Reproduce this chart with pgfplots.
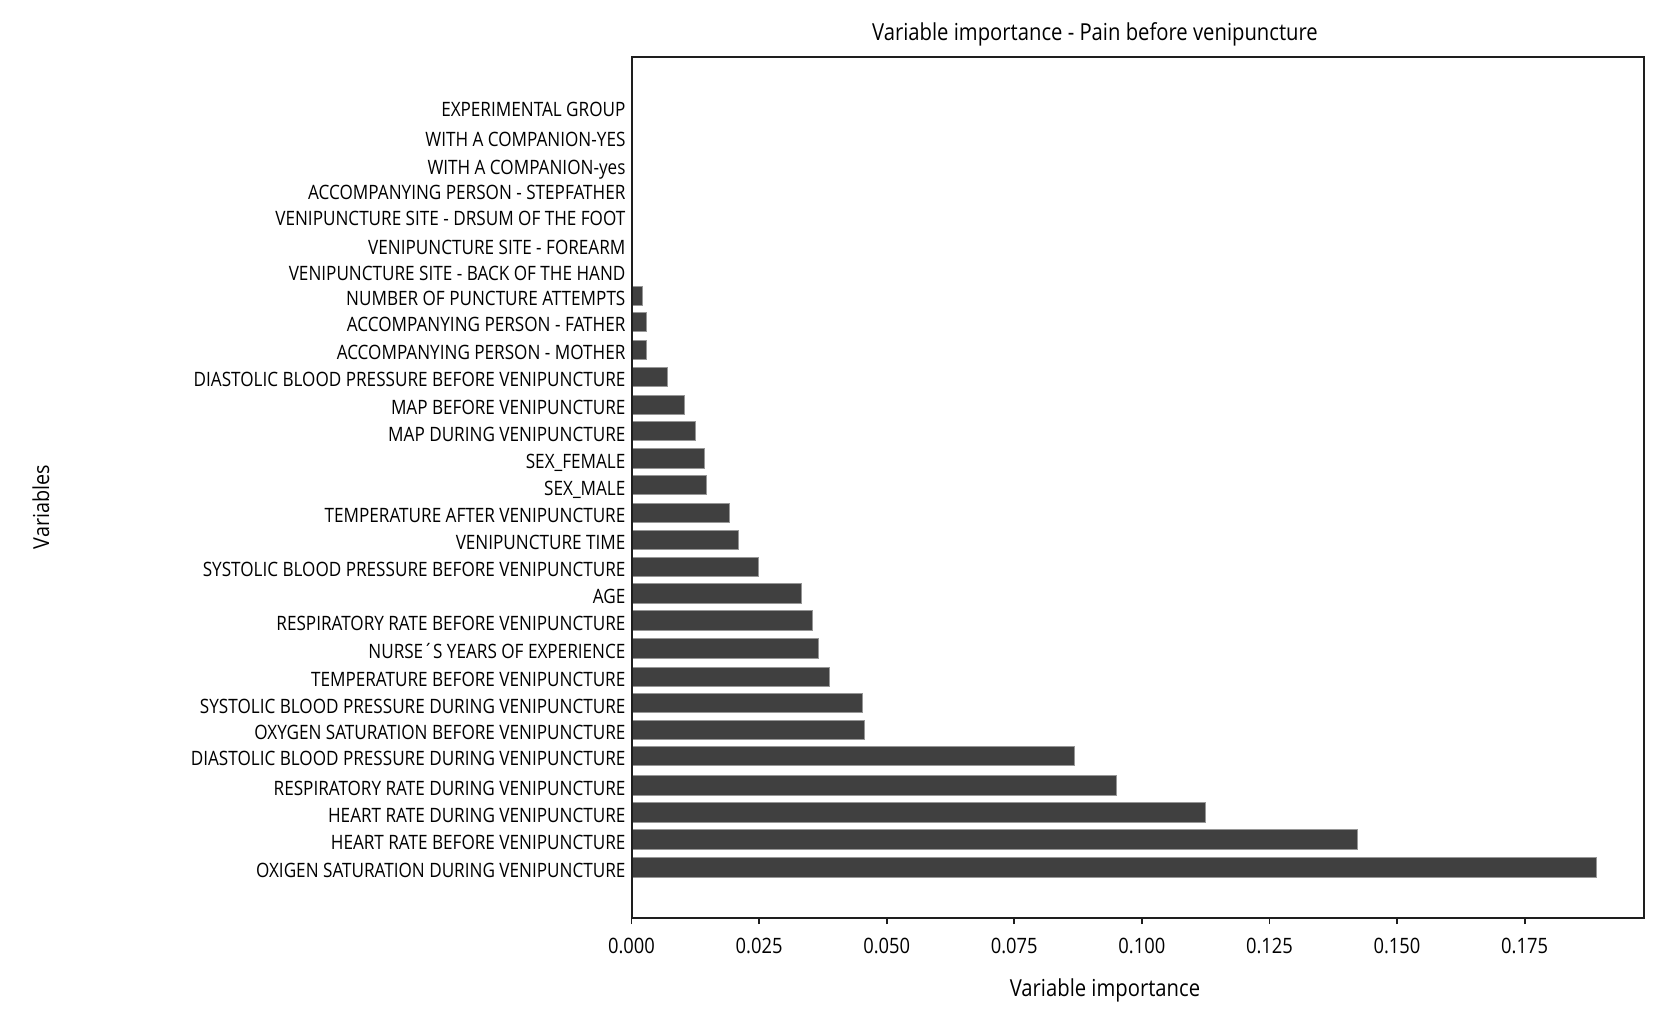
\documentclass[border=0pt]{standalone}
\usepackage{pgfplots}
\pgfplotsset{compat=1.18}
\usepackage{pgfplotstable}
\usepackage{fontspec}
\setmainfont{Open Sans}[FakeStretch=0.865]
\newfontfamily\normfont{Open Sans}[FakeStretch=0.9]
\definecolor{barfill}{RGB}{64,64,64}
\definecolor{baredge}{RGB}{150,150,150}
\definecolor{axcol}{RGB}{30,30,30}
\pgfplotstableread{
y value
146.7 0.1890
174.5 0.1423
201.7 0.1125
228.7 0.0950
258.3 0.0867
284.3 0.0456
311.0 0.0452
337.3 0.0388
365.7 0.0367
393.7 0.0355
420.7 0.0333
447.3 0.0249
474.3 0.0210
501.3 0.0192
529.0 0.0147
555.5 0.0142
583.0 0.0126
609.3 0.0104
637.0 0.0070
664.0 0.0030
692.0 0.0030
718.0 0.0022
743.3 0
769.3 0
798.3 0
824.3 0
849.3 0
877.0 0
907.0 0
}\imp
\begin{document}
\begin{tikzpicture}
\path[use as bounding box] (0,0) rectangle (833.5pt,507pt);
\begin{axis}[
  at={(315.75pt,47.85pt)}, anchor=south west,
  scale only axis, width=506.4pt, height=430.8pt,
  xmin=0, xmax=0.19845, ymin=95.7, ymax=957.3,
  xbar, bar width=19.3,
  axis on top,
  axis line style={line width=1pt, axcol},
  xtick={0,0.025,0.05,0.075,0.1,0.125,0.15,0.175},
  scaled x ticks=false,
  xtick pos=lower, tick align=outside,
  major tick length=2.85pt,
  xtick style={line width=0.9pt, axcol},
  xticklabel style={font=\fontsize{10.6}{11}\selectfont, anchor=base, yshift=-14.65pt, inner sep=0pt},
  /pgf/number format/.cd, fixed, fixed zerofill, precision=3, assume math mode=true, /pgfplots/.cd,
  ytick={146.7,174.5,201.7,228.7,258.3,284.3,311.0,337.3,365.7,393.7,420.7,447.3,474.3,501.3,529.0,555.5,583.0,609.3,637.0,664.0,692.0,718.0,743.3,769.3,798.3,824.3,849.3,877.0,907.0},
  yticklabels={
    OXIGEN SATURATION DURING VENIPUNCTURE,
    HEART RATE BEFORE VENIPUNCTURE,
    HEART RATE DURING VENIPUNCTURE,
    RESPIRATORY RATE DURING VENIPUNCTURE,
    DIASTOLIC BLOOD PRESSURE DURING VENIPUNCTURE,
    OXYGEN SATURATION BEFORE VENIPUNCTURE,
    SYSTOLIC BLOOD PRESSURE DURING VENIPUNCTURE,
    TEMPERATURE BEFORE VENIPUNCTURE,
    NURSE´S YEARS OF EXPERIENCE,
    RESPIRATORY RATE BEFORE VENIPUNCTURE,
    AGE,
    SYSTOLIC BLOOD PRESSURE BEFORE VENIPUNCTURE,
    VENIPUNCTURE TIME,
    TEMPERATURE AFTER VENIPUNCTURE,
    SEX\_MALE,
    SEX\_FEMALE,
    MAP DURING VENIPUNCTURE,
    MAP BEFORE VENIPUNCTURE,
    DIASTOLIC BLOOD PRESSURE BEFORE VENIPUNCTURE,
    ACCOMPANYING PERSON - MOTHER,
    ACCOMPANYING PERSON - FATHER,
    NUMBER OF PUNCTURE ATTEMPTS,
    VENIPUNCTURE SITE - BACK OF THE HAND,
    VENIPUNCTURE SITE - FOREARM,
    VENIPUNCTURE SITE - DRSUM OF THE FOOT,
    ACCOMPANYING PERSON - STEPFATHER,
    WITH A COMPANION-yes,
    WITH A COMPANION-YES,
    EXPERIMENTAL GROUP},
  ytick style={draw=none},
  yticklabel style={font=\fontsize{9.9}{11}\selectfont, anchor=base east, inner sep=0pt, xshift=0pt, yshift=-5pt},
]
\addplot[fill=barfill, draw=baredge, line width=0.4pt] table[x=value, y=y] {\imp};
\end{axis}
\node[anchor=base, font=\fontsize{11.7}{13}\selectfont] at (547.5pt,486.65pt) {Variable importance - Pain before venipuncture};
\node[anchor=base, font=\fontsize{11.7}{13}\selectfont] at (552.5pt,8.65pt) {Variable importance};
\node[anchor=base, rotate=90, font=\normfont\fontsize{11}{12}\selectfont] at (24.5pt,253.5pt) {Variables};
\end{tikzpicture}
\end{document}
